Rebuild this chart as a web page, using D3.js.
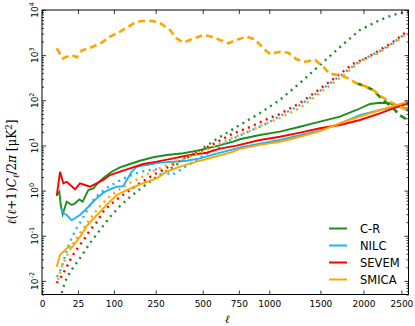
<!DOCTYPE html>
<html>
<head>
<meta charset="utf-8">
<script src="https://cdn.jsdelivr.net/npm/d3@7"></script>
<style>
  body { margin: 0; background: #fff; }
  svg { display: block; font-family: "DejaVu Sans", sans-serif; }
</style>
</head>
<body>
<svg id="chart"></svg>
<script>
// Data: [multipole ell, D_ell in muK^2]
const crSolid = [[4.2,0.80],[5.8,0.95],[6.8,0.48],[8.3,0.30],[11.8,0.57],[17.1,0.48],[21.1,0.52],[26.9,0.64],[32,0.57],[41.5,1.03],[50.9,1.12],[61.3,1.5],[76.8,2.03],[93.9,2.62],[117.7,3.28],[149.8,3.88],[185.8,4.59],[239.7,5.47],[301,6.14],[386,6.7],[483,7.9],[590,9.7],[708,12.1],[758,13.7],[919,17],[1096,20.2],[1288,26],[1495,33.6],[1718,43.3],[1915,61],[2081,82.8],[2210,88.5],[2343,86],[2433,75],[2522,70],[2591,61]];
const nilcSolid = [[6.8,0.41],[8.8,0.32],[11.8,0.288],[17.1,0.22],[23.3,0.26],[27.9,0.288],[35.8,0.37],[44.6,0.48],[57.9,0.68],[72.7,0.9],[89.4,1.07],[108,1.22],[128,1.26],[138.8,1.72],[155.6,2.62],[173.5,3.39],[212,3.7],[269,4.17],[333.5,4.37],[405,4.59],[483,5.19],[590,6.6],[708,8.2],[758,9.0],[919,10.9],[1096,13.2],[1288,17],[1495,21.4],[1718,31],[1956,47],[2210,61],[2433,72],[2591,85.7]];
const sevemSolid = [[4.2,0.76],[6.3,2.6],[8.8,1.45],[11.8,1.57],[21.1,1.07],[27.9,1.45],[35.8,1.33],[44.6,1.22],[57.9,1.45],[72.7,1.72],[89.4,2.21],[117.7,2.62],[149.8,3.12],[198.5,3.88],[254.6,4.37],[333.5,5.19],[424,6.14],[524.6,6.9],[613,8.5],[733,9.9],[919,13.2],[1096,15.6],[1288,19.2],[1495,24],[1718,28.4],[1956,36.6],[2210,51.5],[2389,66.5],[2591,85.7]];
const smicaSolid = [[4.2,0.0206],[6.3,0.0375],[10.2,0.048],[13.4,0.057],[17.1,0.055],[23.3,0.076],[30.5,0.107],[38.6,0.164],[47.8,0.22],[61.3,0.31],[76.8,0.44],[89.4,0.57],[108,0.8],[138.8,1.03],[185.8,1.38],[254.6,1.87],[301,2.62],[368,3.39],[463,4.37],[567,5.47],[708,7.3],[758,8.4],[919,10.3],[1096,12.1],[1288,15.6],[1495,20.7],[1718,31],[1956,43.3],[2210,61],[2433,78],[2591,93]];

const smicaDashed = [[4.2,1419],[8.3,851],[17.1,1007],[23.3,895],[30.5,1260],[50.9,1550],[68.9,1890],[89.4,2570],[112.6,3140],[138.8,4060],[167.3,5250],[192.2,5700],[239.7,5700],[277,4900],[317,3600],[351,2360],[386,1890],[433,2240],[503,2790],[557,2570],[613,2170],[672,1830],[733,2170],[810,2570],[878,2240],[947,1419],[1006,1059],[1096,1190],[1173,1130],[1254,809],[1338,716],[1444,781],[1530,555],[1605,383],[1718,363],[1815,307],[1915,238],[2018,207],[2123,169],[2231,120],[2343,93],[2479,72],[2573,61]];
const crDashed = [[1915,238],[2018,207],[2123,169],[2167,140],[2253,102],[2366,72],[2479,47],[2549,40],[2600,36]];

const crDotted = [[7.5,0.0054],[10.2,0.0095],[15.2,0.0157],[27.9,0.032],[44.6,0.069],[65,0.134],[89.4,0.26],[117.7,0.456],[149.8,0.72],[185.8,1.08],[247,1.9],[317,3.0],[396,5.0],[483,7.9],[613,15.4],[758,28.4],[919,52],[1096,102],[1288,242],[1495,605],[1718,1513],[1956,3600],[2210,6000],[2383,7740],[2507,8590],[2600,9000]];
const nilcDotted = [[4.35,0.0122],[5.8,0.015],[8.8,0.026],[11.8,0.048],[17.1,0.089],[23.3,0.149],[30.5,0.223],[41.5,0.41],[50.9,0.62],[65,0.885],[81,1.14],[108,1.55],[138.8,2.0],[185.8,2.58],[247,3.0],[293,2.58],[327,2.21],[396,3.33],[483,5.3],[592,8.8],[698,13.9],[837,20.9],[936,27],[1096,44.9],[1288,78.7],[1495,161],[1718,345],[1956,741],[2210,1236],[2383,1858],[2549,2940]];
const sevemDotted = [[4.2,0.009],[7.0,0.0122],[11.8,0.0203],[17.1,0.034],[25.5,0.056],[35.8,0.089],[44.6,0.134],[57.9,0.2],[72.7,0.34],[89.4,0.48],[117.7,0.72],[149.8,1.03],[185.8,1.47],[247,2.33],[317,3.5],[396,5.3],[483,7.5],[592,11.9],[698,17.9],[837,25.6],[962,36.6],[1096,50],[1288,87],[1495,178],[1718,383],[1870,637],[2060,910],[2210,1300],[2383,1950],[2549,3100]];
const smicaDotted = [[4.95,0.0105],[7.5,0.0203],[11.8,0.0356],[17.1,0.059],[25.1,0.099],[35.8,0.164],[50.3,0.288],[65,0.456],[89.4,0.76],[117.7,1.08],[149.8,1.47],[185.8,1.9],[247,2.86],[317,3.88],[396,5.3],[483,6.8],[592,10.2],[698,14.6],[837,20.9],[962,29.9],[1096,40.5],[1288,67.6],[1495,145],[1718,312],[1956,705],[2210,1175],[2383,1766],[2549,2790]];

const methods = ["C-R", "NILC", "SEVEM", "SMICA"];
const colors = ["#1b8f1b", "#1fb4f0", "#ff0000", "#ffa500"];
const xTickValues = [0, 25, 100, 250, 500, 750, 1000, 1500, 2000, 2500];
const yDecades = [-2, -1, 0, 1, 2, 3, 4];

const width = 415, height = 326;
const margin = { top: 10, right: 6.5, bottom: 31.5, left: 42 };

const svg = d3.select("#chart").attr("width", width).attr("height", height);

const x = d3.scalePow().exponent(0.5)
    .domain([0, 2600])
    .range([margin.left, width - margin.right]);
const y = d3.scaleLog()
    .domain([5e-3, 1e4])
    .range([height - margin.bottom, margin.top]);

svg.append("clipPath").attr("id", "plot-clip")
  .append("rect")
    .attr("x", margin.left).attr("y", margin.top)
    .attr("width", x.range()[1] - margin.left)
    .attr("height", y.range()[0] - margin.top);

const line = d3.line().x(d => x(d[0])).y(d => y(d[1]));
const plot = svg.append("g").attr("clip-path", "url(#plot-clip)");

const series = [
  { data: crSolid, c: 0, style: "solid" },
  { data: crDashed, c: 0, style: "dashed" },
  { data: crDotted, c: 0, style: "dotted" },
  { data: nilcSolid, c: 1, style: "solid" },
  { data: nilcDotted, c: 1, style: "dotted" },
  { data: sevemSolid, c: 2, style: "solid" },
  { data: sevemDotted, c: 2, style: "dotted" },
  { data: smicaSolid, c: 3, style: "solid" },
  { data: smicaDashed, c: 3, style: "dashed" },
  { data: smicaDotted, c: 3, style: "dotted" }
];

series.forEach(s => {
  const p = plot.append("path")
    .attr("d", line(s.data))
    .attr("fill", "none")
    .attr("stroke", colors[s.c]);
  if (s.style === "solid") p.attr("stroke-width", 1.9);
  if (s.style === "dashed") p.attr("stroke-width", 2.6).attr("stroke-dasharray", "7,4");
  if (s.style === "dotted") p.attr("stroke-width", 2.4).attr("stroke-dasharray", "2,4.5");
});

// Axes (ticks point inward on all four sides)
const yMajor = yDecades.map(e => Math.pow(10, e));
const yMinor = [];
for (let e = -3; e < 4; e++) {
  for (let m = 2; m <= 9; m++) {
    const v = m * Math.pow(10, e);
    if (v >= 5e-3 && v < 1e4) yMinor.push(v);
  }
}

const xb = svg.append("g")
    .attr("transform", `translate(0,${y.range()[0]})`)
    .call(d3.axisBottom(x).tickValues(xTickValues).tickFormat(d3.format("d"))
      .tickSizeInner(-4).tickSizeOuter(0).tickPadding(6));
const xt = svg.append("g")
    .attr("transform", `translate(0,${margin.top})`)
    .call(d3.axisTop(x).tickValues(xTickValues).tickSizeInner(-4).tickSizeOuter(0).tickFormat(""));
const yl = svg.append("g")
    .attr("transform", `translate(${margin.left},0)`)
    .call(d3.axisLeft(y).tickValues(yMajor).tickSizeInner(-4).tickSizeOuter(0).tickFormat(""));
const yr = svg.append("g")
    .attr("transform", `translate(${x.range()[1]},0)`)
    .call(d3.axisRight(y).tickValues(yMajor).tickSizeInner(-4).tickSizeOuter(0).tickFormat(""));
const ylm = svg.append("g")
    .attr("transform", `translate(${margin.left},0)`)
    .call(d3.axisLeft(y).tickValues(yMinor).tickSizeInner(-2).tickSizeOuter(0).tickFormat(""));
const yrm = svg.append("g")
    .attr("transform", `translate(${x.range()[1]},0)`)
    .call(d3.axisRight(y).tickValues(yMinor).tickSizeInner(-2).tickSizeOuter(0).tickFormat(""));

[xb, xt, yl, yr, ylm, yrm].forEach(g => {
  g.select(".domain").remove();
  g.selectAll("line").attr("stroke", "#000").attr("stroke-width", 0.8);
});
xb.selectAll("text").attr("font-size", 9).attr("font-family", "DejaVu Sans").attr("fill", "#000");

// Frame
svg.append("rect")
    .attr("x", margin.left).attr("y", margin.top)
    .attr("width", x.range()[1] - margin.left)
    .attr("height", y.range()[0] - margin.top)
    .attr("fill", "none").attr("stroke", "#000").attr("stroke-width", 1);

// Y tick labels, rotated 10^n
yDecades.forEach(e => {
  const t = svg.append("text")
      .attr("transform", `translate(38,${y(Math.pow(10, e))}) rotate(-90)`)
      .attr("text-anchor", "middle")
      .attr("font-size", 9);
  t.append("tspan").text("10");
  t.append("tspan").attr("dy", -4).attr("font-size", 6.5).text(e);
});

// Axis labels
svg.append("text")
    .attr("x", (margin.left + x.range()[1]) / 2 + 2).attr("y", 323)
    .attr("text-anchor", "middle")
    .attr("font-family", "DejaVu Serif").attr("font-style", "italic")
    .attr("font-size", 11).text("ℓ");

const ylab = svg.append("text")
    .attr("transform", "translate(16,172) rotate(-90)")
    .attr("text-anchor", "middle")
    .attr("font-family", "DejaVu Serif").attr("font-size", 12);
ylab.append("tspan").attr("font-style", "italic").text("ℓ");
ylab.append("tspan").text("(");
ylab.append("tspan").attr("font-style", "italic").text("ℓ");
ylab.append("tspan").text("+1)");
ylab.append("tspan").attr("font-style", "italic").text("C");
ylab.append("tspan").attr("font-style", "italic").attr("font-size", 8.5).attr("dy", 2.5).text("ℓ");
ylab.append("tspan").attr("dy", -2.5).text("/2");
ylab.append("tspan").attr("font-style", "italic").text("π");
ylab.append("tspan").text(" [μK");
ylab.append("tspan").attr("font-size", 8.5).attr("dy", -4.5).text("2");
ylab.append("tspan").attr("dy", 4.5).text("]");

// Legend
const legend = svg.append("g");
methods.forEach((m, i) => {
  const ly = 228.5 + i * 17;
  legend.append("line")
      .attr("x1", 329).attr("x2", 347).attr("y1", ly).attr("y2", ly)
      .attr("stroke", colors[i]).attr("stroke-width", 2);
  legend.append("text")
      .attr("x", 360).attr("y", ly + 4)
      .attr("font-size", 11.5).text(m);
});
</script>
</body>
</html>
